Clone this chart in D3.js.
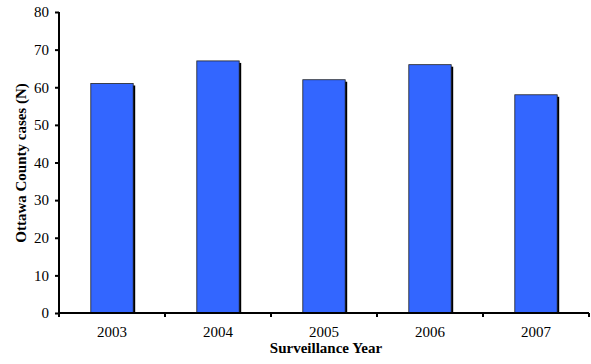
<!DOCTYPE html>
<html><head><meta charset="utf-8">
<script src="https://cdn.jsdelivr.net/npm/d3@7"></script>
<style>body{margin:0;background:#fff}svg{display:block}text{font-family:"Liberation Serif","Times New Roman",Times,serif}</style>
</head><body>
<svg id="c" width="591" height="364"></svg>
<script>
const years = ["2003","2004","2005","2006","2007"];
const cases = [61, 67, 62, 66, 58];
const yTicks = [0,10,20,30,40,50,60,70,80];

const svg = d3.select("#c");
const m = {l:59, r:589, t:12, b:313};
const x = d3.scaleBand().domain(years).range([m.l, m.r]).paddingInner(0.6).paddingOuter(0.3);
const y = d3.scaleLinear().domain([0,80]).range([m.b, m.t]);

const g = svg.append("g");
g.selectAll("rect.sh").data(years).join("rect")
  .attr("x", d => x(d) + 2).attr("y", (d,i) => y(cases[i]) + 2)
  .attr("width", x.bandwidth()).attr("height", (d,i) => m.b - y(cases[i]) - 2)
  .attr("fill", "#000");
g.selectAll("rect.bar").data(years).join("rect")
  .attr("x", d => x(d)).attr("y", (d,i) => y(cases[i]))
  .attr("width", x.bandwidth()).attr("height", (d,i) => m.b - y(cases[i]))
  .attr("fill", "#3366ff").attr("stroke", "#222").attr("stroke-width", 0.8);

const yAxis = d3.axisLeft(y).tickValues(yTicks).tickSize(4).tickPadding(6);
const ya = svg.append("g").attr("transform", `translate(${m.l},0)`).call(yAxis);
ya.attr("font-family", null);
ya.select(".domain").attr("stroke-width", 2).attr("d", `M0,${m.t}V${m.b}`);
ya.selectAll(".tick line").attr("stroke-width", 2);
ya.selectAll("text").attr("font-size", 15).attr("fill", "#000");

const xEdge = d3.scaleLinear().domain([0, years.length]).range([m.l, m.r]);
const xa = svg.append("g").attr("transform", `translate(0,${m.b})`);
xa.append("line").attr("x1", m.l).attr("x2", m.r).attr("stroke", "#000").attr("stroke-width", 2);
xa.selectAll("line.t").data(d3.range(years.length + 1)).join("line")
  .attr("x1", d => xEdge(d)).attr("x2", d => xEdge(d)).attr("y1", 0).attr("y2", 4)
  .attr("stroke", "#000").attr("stroke-width", 2);
xa.selectAll("text").data(years).join("text")
  .attr("x", d => x(d) + x.bandwidth()/2).attr("y", 24)
  .attr("text-anchor", "middle").attr("font-size", 15)
  .text(d => d);

svg.append("text").attr("x", 326).attr("y", 353).attr("text-anchor", "middle")
  .attr("font-weight", "bold").attr("font-size", 15)
  .text("Surveillance Year");
svg.append("text").attr("transform", "translate(26,163) rotate(-90)").attr("text-anchor", "middle")
  .attr("font-weight", "bold").attr("font-size", 15)
  .text("Ottawa County cases (N)");
</script>
</body></html>
